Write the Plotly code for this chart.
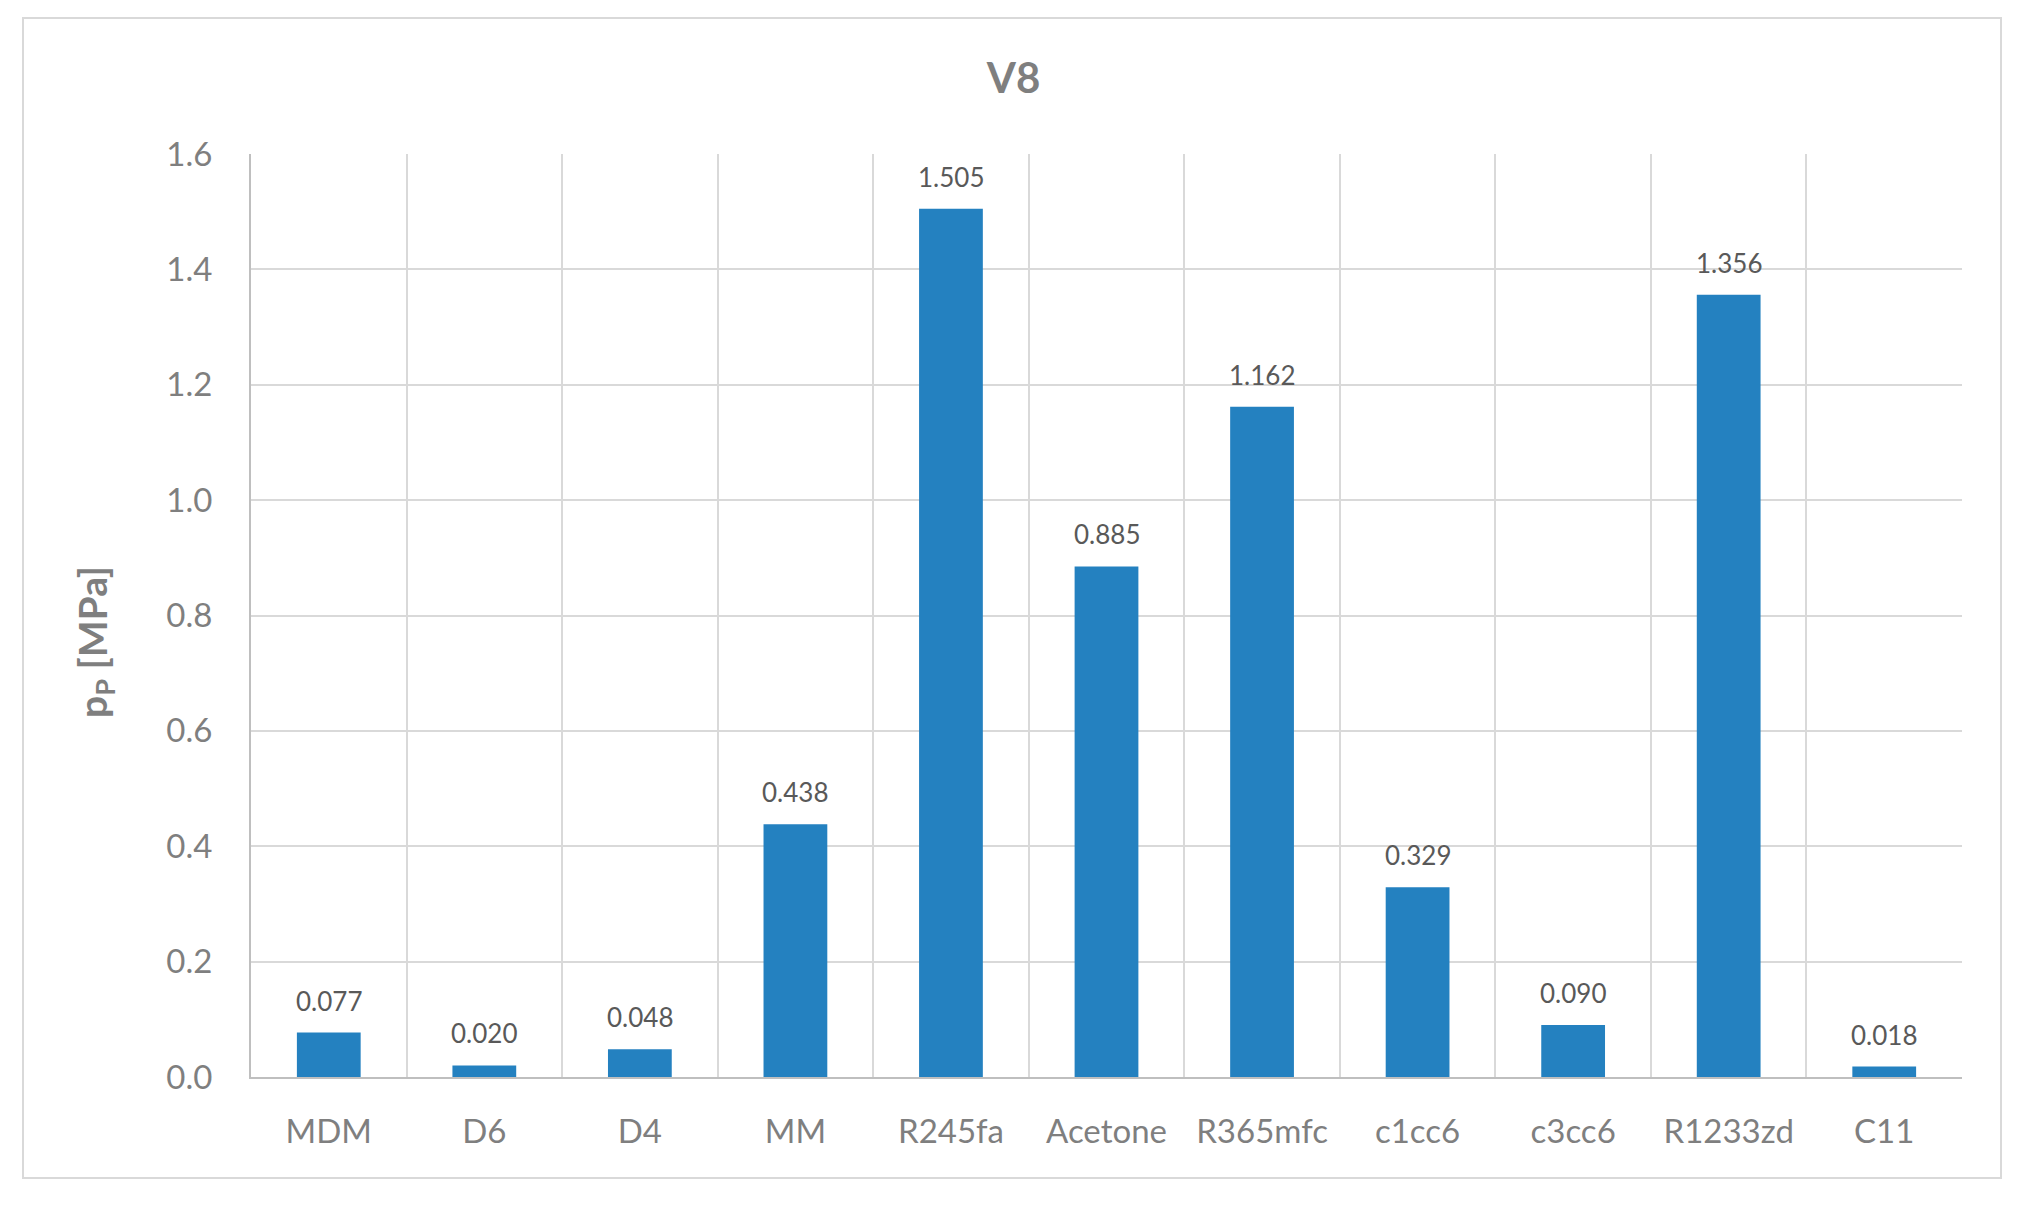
import plotly.graph_objects as go

categories = ["MDM", "D6", "D4", "MM", "R245fa", "Acetone", "R365mfc", "c1cc6", "c3cc6", "R1233zd", "C11"]
values = [0.077, 0.020, 0.048, 0.438, 1.505, 0.885, 1.162, 0.329, 0.090, 1.356, 0.018]
y_ticks = [0.0, 0.2, 0.4, 0.6, 0.8, 1.0, 1.2, 1.4, 1.6]

OFF = 8  # default page body margin
W, H = 2027 - 2 * OFF, 1210 - 2 * OFF
# target page coords of plot area
PL, PR, PT, PB = 251, 1962, 154, 1077
L = PL - OFF
T = PT - OFF
R = W - (PR - OFF)
B = H - (PB - OFF)
pw, ph = W - L - R, H - T - B


def px_x(x):  # page x -> paper x
    return (x - OFF - L) / pw


def px_y(y):  # page y -> paper y
    return (H - B - (y - OFF)) / ph


FONT = "Lato"
GRAY = "#7f7f7f"

fig = go.Figure()
fig.add_trace(go.Bar(x=categories, y=values, marker=dict(color="#2481c0", line=dict(width=0)),
                     hoverinfo="x+y"))

for c, v in zip(categories, values):
    fig.add_annotation(x=c, y=v, text=f"{v:.3f}", showarrow=False, yanchor="bottom",
                       yshift=14, font=dict(family=FONT, size=26, color="#595959"))

# y-axis title
fig.add_annotation(xref="paper", yref="paper", x=px_x(95), y=px_y(642),
                   text="<b>p<sub>P</sub> [MPa]</b>", textangle=-90, showarrow=False,
                   xanchor="center", yanchor="middle",
                   font=dict(family=FONT, size=39, color=GRAY))

# outer chart frame
fig.add_shape(type="rect", xref="paper", yref="paper",
              x0=px_x(23), x1=px_x(2001), y0=px_y(1178), y1=px_y(18),
              line=dict(color="#d9d9d9", width=2), fillcolor="rgba(0,0,0,0)", layer="below")

fig.update_layout(
    width=W, height=H,
    margin=dict(l=L, r=R, t=T, b=B),
    paper_bgcolor="white", plot_bgcolor="white",
    bargap=0.59,
    showlegend=False,
    title=dict(text="<b>V8</b>", x=0.5, xref="container", xanchor="center",
               y=1 - (78 - OFF) / H, yref="container", yanchor="middle",
               font=dict(family=FONT, size=42, color=GRAY)),
    xaxis=dict(type="category", tickson="boundaries", showgrid=True, gridcolor="#d9d9d9", gridwidth=2,
               showline=True, linecolor="#bfbfbf", linewidth=2, ticks="", ticklabelstandoff=24,
               tickfont=dict(family=FONT, size=33, color=GRAY), fixedrange=True),
    yaxis=dict(range=[0, 1.6], tickvals=y_ticks, tickformat=".1f", showgrid=True, gridcolor="#d9d9d9",
               gridwidth=2, zeroline=False, showline=True, linecolor="#bfbfbf", linewidth=2, ticks="",
               ticklabelstandoff=30, tickfont=dict(family=FONT, size=33, color=GRAY)),
)

fig.write_html("out.html")
